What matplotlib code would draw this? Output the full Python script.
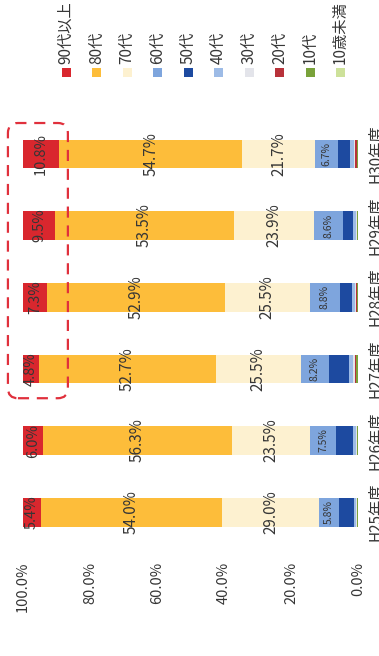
import matplotlib
matplotlib.use("Agg")
import matplotlib.pyplot as plt
import matplotlib.transforms as mtransforms
from matplotlib.patches import Rectangle, FancyBboxPatch
import numpy as np

plt.rcParams['font.family'] = ['Noto Sans CJK JP', 'DejaVu Sans']

# fiscal years, first year at the bottom
years = ["H25年度", "H26年度", "H27年度", "H28年度", "H29年度", "H30年度"]

# age groups, from the top of the stack down
ages = ["90代以上", "80代", "70代", "60代", "50代", "40代", "30代", "20代", "10代", "10歳未満"]
colors = ["#d9272e", "#fdbd3a", "#fdf1d0", "#7ea5dd", "#1d4aa0",
          "#9dbbe6", "#e3e4ea", "#b8323a", "#79a23a", "#cde19a"]

# shares (%) per age group, one value per year
s90 = [5.4, 6.0, 4.8, 7.3, 9.5, 10.8]
s80 = [54.0, 56.3, 52.7, 52.9, 53.5, 54.7]
s70 = [29.0, 23.5, 25.5, 25.5, 23.9, 21.7]
s60 = [5.8, 7.5, 8.2, 8.8, 8.6, 6.7]
s50 = [4.6, 5.2, 6.0, 3.6, 3.0, 3.8]
s40 = [0.6, 0.8, 1.3, 1.0, 0.8, 1.0]
s30 = [0.2, 0.3, 0.5, 0.3, 0.3, 0.4]
s20 = [0.1, 0.1, 0.5, 0.4, 0.1, 0.5]
s10 = [0.2, 0.2, 0.4, 0.1, 0.2, 0.3]
s0 = [0.1, 0.1, 0.1, 0.1, 0.1, 0.1]

series = [s90, s80, s70, s60, s50, s40, s30, s20, s10, s0]
labelled = {"90代以上": 10.5, "80代": 11, "70代": 11, "60代": 7.5}

W, H = 379, 656
fig = plt.figure(figsize=(W / 100, H / 100), dpi=100)
ax = fig.add_axes([23 / W, 108 / H, 335 / W, 430 / H])

y = np.arange(len(years))
left = np.zeros(len(years))
# stack from the youngest group outwards
for name, vals, col in reversed(list(zip(ages, series, colors))):
    vals = np.array(vals)
    ax.barh(y, vals, left=left, height=0.4, color=col, linewidth=0)
    if name in labelled:
        for yi, (l, v) in enumerate(zip(left, vals)):
            ax.text(l + v / 2, yi, f"{v:.1f}%", rotation=90, ha="center", va="center",
                    fontsize=labelled[name], color="#363636")
    left += vals

ax.set_xlim(100, 0)
ax.set_ylim(-0.5, len(years) - 0.5)
ax.set_xticks(np.arange(0, 101, 20))
ax.set_xticklabels([f"{t:.1f}%" for t in np.arange(0, 101, 20)])
ax.tick_params(axis="x", length=0, pad=10, labelrotation=90, labelsize=10.5, labelcolor="#363636")
ax.set_yticks([])
for sp in ax.spines.values():
    sp.set_visible(False)

# year labels on the far side of the zero line
tr = mtransforms.blended_transform_factory(ax.transAxes, ax.transData)
for yi, yr in enumerate(years):
    ax.text(1.027, yi, yr, transform=tr, rotation=90, ha="left", va="center",
            fontsize=11, color="#363636", clip_on=False)

# legend row along the top
for i, (name, col) in enumerate(zip(ages, colors)):
    xc = 66 + i * 30.5
    fig.patches.append(Rectangle(((xc - 4.5) / W, (H - 77) / H), 9 / W, 9 / H,
                                 transform=fig.transFigure, color=col, linewidth=0))
    fig.text(xc / W, (H - 64) / H, name, rotation=90, ha="center", va="bottom",
             fontsize=11, color="#363636")

# dashed frame around the 90代以上 share of the last four years
fig.canvas.draw()
(x0, y0), (x1, y1) = ax.transData.transform([(104.5, 1.59), (86.6, 5.43)])
box = FancyBboxPatch((x0, y0), x1 - x0, y1 - y0,
                     boxstyle="round,pad=0,rounding_size=10",
                     transform=mtransforms.IdentityTransform(),
                     fill=False, edgecolor="#e0303c", linewidth=1.6,
                     linestyle=(0, (5, 3.5)))
fig.patches.append(box)

fig.savefig("out.png", dpi=100)
